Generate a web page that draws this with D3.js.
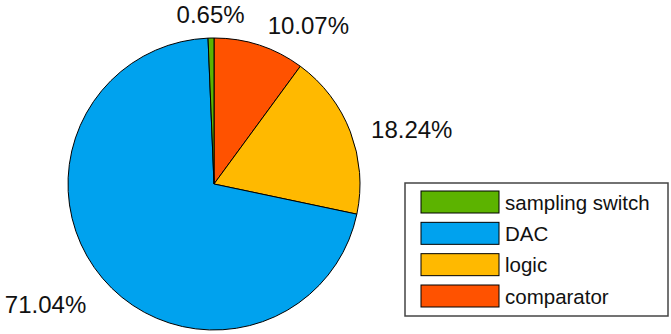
<!DOCTYPE html>
<html>
<head>
<meta charset="utf-8">
<script src="https://cdn.jsdelivr.net/npm/d3@7"></script>
<style>
  html, body { margin: 0; padding: 0; background: #fff; }
  svg { display: block; }
  text { font-family: "Liberation Sans", Arial, sans-serif; fill: #111; }
</style>
</head>
<body>
<svg id="chart" width="671" height="334"></svg>
<script>
// Data (pie order clockwise from 12 o'clock)
const categories = ["comparator", "logic", "DAC", "sampling switch"];
const values = [10.07, 18.24, 71.04, 0.65];
const colors = ["#FF5200", "#FFB900", "#00A2EE", "#5CB300"];
// Legend order
const legendOrder = ["sampling switch", "DAC", "logic", "comparator"];

const svg = d3.select("#chart");
const cx = 214, cy = 184, radius = 146;

const data = categories.map((c, i) => ({ name: c, value: values[i], color: colors[i] }));

const pie = d3.pie().value(d => d.value).sort(null);
const arcs = pie(data);
const arc = d3.arc().innerRadius(0).outerRadius(radius);

const g = svg.append("g").attr("transform", `translate(${cx},${cy})`);

g.selectAll("path.slice")
  .data(arcs)
  .enter().append("path")
  .attr("class", "slice")
  .attr("d", arc)
  .attr("fill", d => d.data.color)
  .attr("stroke", "#000")
  .attr("stroke-width", 1)
  .attr("stroke-linejoin", "round");

// Percentage labels outside the pie
const labelR = 166;
const capH = 17;
g.selectAll("text.pct")
  .data(arcs)
  .enter().append("text")
  .attr("class", "pct")
  .attr("font-size", 24)
  .each(function(d) {
    const a = (d.startAngle + d.endAngle) / 2;
    const s = Math.sin(a), c = Math.cos(a);
    const px = labelR * s, py = -labelR * c;
    const side = Math.abs(s) < 0.1;
    const anchor = side ? "middle" : (s > 0 ? "start" : "end");
    const baseline = py + 5 + capH * (1 - c) / 2 + (side ? 0 : 2.5);
    d3.select(this)
      .attr("x", px + (side ? 0 : (s > 0 ? 2 : -1)))
      .attr("y", baseline)
      .attr("text-anchor", anchor)
      .text(d.data.value.toFixed(2) + "%");
  });

// Legend
const legend = svg.append("g");
const lx = 405, ly = 183, lw = 263, lh = 133;
legend.append("rect")
  .attr("x", lx).attr("y", ly).attr("width", lw).attr("height", lh)
  .attr("fill", "#fff").attr("stroke", "#444").attr("stroke-width", 1.5);

const rowY = d3.scalePoint().domain(legendOrder).range([ly + 19, ly + 113]);
const colorOf = name => colors[categories.indexOf(name)];

const rows = legend.selectAll("g.row")
  .data(legendOrder)
  .enter().append("g").attr("class", "row");

rows.append("rect")
  .attr("x", lx + 16)
  .attr("y", d => rowY(d) - 11)
  .attr("width", 78)
  .attr("height", 22)
  .attr("fill", d => colorOf(d))
  .attr("stroke", "#000")
  .attr("stroke-width", 1);

rows.append("text")
  .attr("x", lx + 100)
  .attr("y", d => rowY(d) + 7.5)
  .attr("font-size", 20.5)
  .text(d => d);
</script>
</body>
</html>
